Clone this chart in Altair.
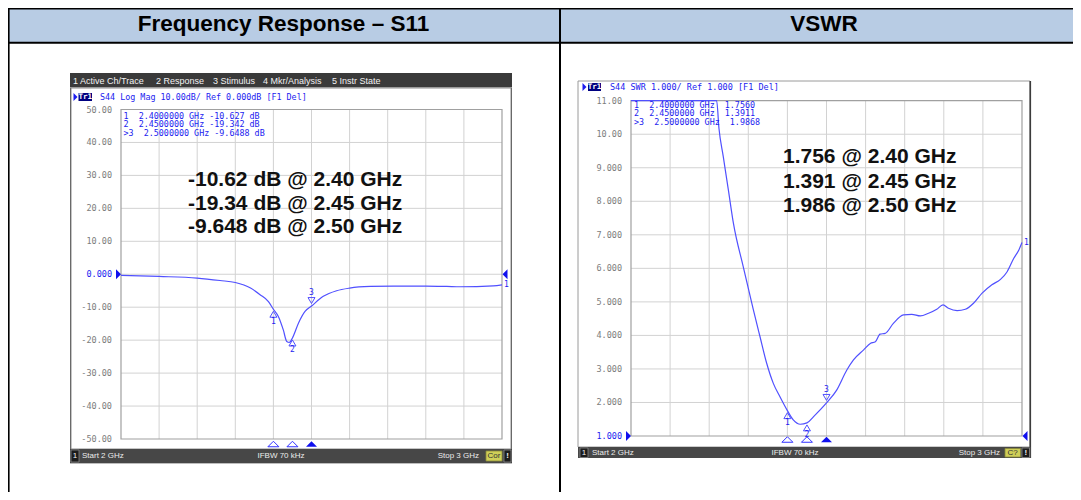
import altair as alt
import pandas as pd

# ---------------- data ----------------
freq_s11 = [2.00, 2.10, 2.20, 2.26, 2.30, 2.34, 2.365, 2.387, 2.40, 2.413, 2.426, 2.435,
            2.442, 2.45, 2.466, 2.483, 2.50, 2.531, 2.566, 2.60, 2.654, 2.714, 2.80,
            2.855, 2.89, 2.977, 3.00]
s11_db = [-0.35, -0.67, -1.16, -1.9, -2.5, -4.2, -6.2, -8.3, -10.627, -12.8, -16.9, -20.4,
          -20.7, -19.342, -14.8, -11.3, -9.6488, -6.7, -5.0, -4.2, -3.7, -3.6, -3.6,
          -3.7, -3.8, -3.5, -3.2]

freq_vswr = [2.00, 2.219, 2.225, 2.236, 2.249, 2.262, 2.287, 2.313, 2.330, 2.347, 2.364,
             2.381, 2.40, 2.415, 2.433, 2.45, 2.467, 2.50, 2.526, 2.552, 2.569, 2.595,
             2.612, 2.625, 2.637, 2.650, 2.671, 2.697, 2.718, 2.740, 2.761, 2.782, 2.798,
             2.812, 2.834, 2.855, 2.876, 2.898, 2.923, 2.945, 2.962, 2.979, 2.992, 3.00]
vswr = [11.0, 11.0, 10.17, 9.33, 8.34, 7.34, 6.05, 4.76, 3.96, 3.17, 2.57,
        2.17, 1.756, 1.48, 1.35, 1.3911, 1.58, 1.9868, 2.37, 2.97, 3.27, 3.57,
        3.76, 3.81, 4.04, 4.06, 4.36, 4.61, 4.63, 4.58, 4.66, 4.78, 4.91,
        4.81, 4.74, 4.78, 4.96, 5.26, 5.51, 5.67, 5.90, 6.30, 6.55, 6.77]

marker_ids = [1, 2, 3]
marker_freq = [2.40, 2.45, 2.50]
marker_s11 = [-10.627, -19.342, -9.6488]
marker_vswr = [1.7560, 1.3911, 1.9868]
s11_readout = ["-10.627", "-19.342", "-9.6488"]
vswr_readout = ["1.7560", "1.3911", "1.9868"]
s11_notes = ["-10.62 dB @ 2.40 GHz", "-19.34 dB @ 2.45 GHz", "-9.648 dB @ 2.50 GHz"]
vswr_notes = ["1.756 @ 2.40 GHz", "1.391 @ 2.45 GHz", "1.986 @ 2.50 GHz"]

s11_ticks = [50, 40, 30, 20, 10, 0, -10, -20, -30, -40, -50]
s11_tick_labels = ["50.00", "40.00", "30.00", "20.00", "10.00", "0.000",
                   "-10.00", "-20.00", "-30.00", "-40.00", "-50.00"]
vswr_ticks = [11, 10, 9, 8, 7, 6, 5, 4, 3, 2, 1]
vswr_tick_labels = ["11.00", "10.00", "9.000", "8.000", "7.000", "6.000",
                    "5.000", "4.000", "3.000", "2.000", "1.000"]
freq_grid = [2.1, 2.2, 2.3, 2.4, 2.5, 2.6, 2.7, 2.8, 2.9]
s11_grid = [40, 30, 20, 10, 0, -10, -20, -30, -40]
vswr_grid = [10, 9, 8, 7, 6, 5, 4, 3, 2]

headers = ["Frequency Response \u2013 S11", "VSWR"]
menu_items = ["1 Active Ch/Trace", "2 Response", "3 Stimulus", "4 Mkr/Analysis", "5 Instr State"]
trace_name = "Tr1"
s11_title = "S44 Log Mag 10.00dB/ Ref 0.000dB [F1 Del]"
vswr_title = "S44 SWR 1.000/ Ref 1.000 [F1 Del]"
status_items = ["Start 2 GHz", "IFBW 70 kHz", "Stop 3 GHz"]
s11_flag = "Cor"
vswr_flag = "C?"

# ---------------- styling / layout ----------------
MONO = "DejaVu Sans Mono"
SANS = "Liberation Sans"
BLUE = "#1c1cf0"
TRACE = "#5050ff"
GREY = "#7c7c7c"
GRID = "#d2d2d2"
BORDER = "#a0a0a0"
BAR = "#474747"
NB = "\u00a0"

def X(x):
    return x - 8

def Y(y):
    return y - 8

one = pd.DataFrame({"k": [0]})
layers = []

def rect(x1, y1, x2, y2, fill, stroke=None, sw=1.0):
    kw = {"fill": fill, "strokeWidth": 0}
    if stroke is not None:
        kw.update(stroke=stroke, strokeWidth=sw)
    layers.append(alt.Chart(one).mark_rect(**kw).encode(
        x=alt.value(X(x1)), x2=alt.value(X(x2)), y=alt.value(Y(y1)), y2=alt.value(Y(y2))))

def hrule(x1, x2, y, color, w):
    layers.append(alt.Chart(one).mark_rule(color=color, strokeWidth=w).encode(
        x=alt.value(X(x1)), x2=alt.value(X(x2)), y=alt.value(Y(y))))

def vrule(x, y1, y2, color, w):
    layers.append(alt.Chart(one).mark_rule(color=color, strokeWidth=w).encode(
        x=alt.value(X(x)), y=alt.value(Y(y1)), y2=alt.value(Y(y2))))

def text(x, y, s, size, color, font, weight="normal", align="left"):
    layers.append(alt.Chart(one).mark_text(
        text=s, fontSize=size, color=color, font=font, fontWeight=weight,
        align=align, baseline="middle").encode(x=alt.value(X(x)), y=alt.value(Y(y))))

def glyph(x, y, path, size, color):
    layers.append(alt.Chart(one).mark_point(
        shape=path, size=size, filled=True, color=color, opacity=1, strokeWidth=0).encode(
        x=alt.value(X(x)), y=alt.value(Y(y))))

TRI_R = "M-0.5,-1L0.5,0L-0.5,1Z"
TRI_L = "M0.5,-1L-0.5,0L0.5,1Z"
TRI_UP_FLAT = "M-1,0.5L0,-0.5L1,0.5Z"
TRI_UP = "M-1,0.85L0,-0.85L1,0.85Z"
TRI_DN = "M-1,-0.85L0,0.85L1,-0.85Z"

# ---------------- table ----------------
rect(8, 8, 1081, 42, "#b8cce4")
hrule(8, 1081, 8.8, "#000000", 1.6)
hrule(8, 1081, 42.7, "#000000", 2)
vrule(8.8, 8, 500, "#000000", 1.6)
vrule(560, 8, 500, "#000000", 2)
text(283.5, 24, headers[0], 22.5, "#000000", SANS, "bold", "center")
text(824, 24, headers[1], 22.5, "#000000", SANS, "bold", "center")

# ---------------- screenshot frames ----------------
# left instrument screen
rect(70, 73, 512, 464, BAR)
rect(71, 88, 511, 449, "#ffffff", "#8c8c8c", 1)
rect(70, 73, 512, 87, "#3a3a3a")
hrule(70, 512, 87.5, "#9a9a9a", 1)
rect(70, 449, 512, 463, BAR)
hrule(70, 512, 463.5, "#bdbdbd", 1)
menu_x = [73, 156, 213, 263, 332]
for mx, m in zip(menu_x, menu_items):
    text(mx, 80.5, m, 9, "#f2f2f2", SANS)
rect(71, 450, 79, 462, "#1c1c1c", "#8a8a8a", 0.8)
text(75, 456, "1", 8, "#f0f0f0", SANS, "normal", "center")
text(82, 456, status_items[0], 8, "#ececec", SANS)
text(281, 456, status_items[1], 8, "#ececec", SANS, "normal", "center")
text(479, 456, status_items[2], 8, "#ececec", SANS, "normal", "right")
rect(486, 451, 502, 461, "#cfcf58", "#8a8a3a", 0.8)
text(494, 456, s11_flag, 8, "#333333", SANS, "normal", "center")
rect(504, 450, 511, 462, "#1c1c1c", "#8a8a8a", 0.8)
text(507.5, 456, "!", 8, "#f0f0f0", SANS, "bold", "center")
glyph(75.5, 97, TRI_R, 64, BLUE)
rect(78.5, 93, 92, 101, "#000080")
text(85.3, 97, trace_name, 7.5, "#ffffff", MONO, "bold", "center")
text(100, 97, s11_title, 8.4, BLUE, MONO)

# right instrument screen
rect(578, 81, 1030, 447, "#ffffff", "#9a9a9a", 1)
vrule(1030.3, 81, 458, "#3c3c3c", 1.6)
rect(578, 447, 1031, 458, BAR)
rect(580, 448, 588, 457.5, "#1c1c1c", "#8a8a8a", 0.8)
text(584, 452.8, "1", 8, "#f0f0f0", SANS, "normal", "center")
text(592, 452.8, status_items[0], 8, "#ececec", SANS)
text(795, 452.8, status_items[1], 8, "#ececec", SANS, "normal", "center")
text(1000, 452.8, status_items[2], 8, "#ececec", SANS, "normal", "right")
rect(1005, 448.5, 1020.5, 457, "#cfcf58", "#8a8a3a", 0.8)
text(1012.7, 452.8, vswr_flag, 8, "#333333", SANS, "normal", "center")
rect(1022, 448, 1029.5, 457.5, "#1c1c1c", "#8a8a8a", 0.8)
text(1025.8, 452.8, "!", 8, "#f0f0f0", SANS, "bold", "center")
glyph(584.5, 87, TRI_R, 64, BLUE)
rect(588, 83, 601, 91, "#000080")
text(594.5, 87, trace_name, 7.5, "#ffffff", MONO, "bold", "center")
text(610, 87, vswr_title, 8.5, BLUE, MONO)


# ---------------- the two instrument plots ----------------
def plot(box, ydom, gridv, ticks, tick_labels, ref_val, freqs, vals,
         mvals, readout, readout_sep, unit, notes, note_xy, ro_xy, bot_y):
    x0, y0, x1, y1 = box
    xs = alt.Scale(domain=[2, 3], range=[X(x0), X(x1)], nice=False, zero=False)
    ys = alt.Scale(domain=ydom, range=[Y(y1), Y(y0)], nice=False, zero=False)
    fx = lambda f: alt.X(f, type="quantitative", scale=xs, axis=None)
    fy = lambda f: alt.Y(f, type="quantitative", scale=ys, axis=None)

    gx = pd.DataFrame({"f": freq_grid})
    layers.append(alt.Chart(gx).mark_rule(color=GRID, strokeWidth=1).encode(
        x=fx("f"), y=alt.value(Y(y0)), y2=alt.value(Y(y1))))
    gy = pd.DataFrame({"v": gridv})
    layers.append(alt.Chart(gy).mark_rule(color=GRID, strokeWidth=1).encode(
        y=fy("v"), x=alt.value(X(x0)), x2=alt.value(X(x1))))
    rect(x0, y0, x1, y1, "transparent", BORDER, 1.2)

    tk = pd.DataFrame({"v": ticks, "t": tick_labels})
    col = alt.condition(alt.datum.v == ref_val, alt.value(BLUE), alt.value(GREY))
    layers.append(alt.Chart(tk).mark_text(
        align="right", baseline="middle", font=MONO, fontSize=8.5).encode(
        x=alt.value(X(x0 - 9)), y=fy("v"), text="t:N", color=col))

    # reference-level arrows
    rf = pd.DataFrame({"v": [ref_val]})
    layers.append(alt.Chart(rf).mark_point(shape=TRI_R, size=100, filled=True, color="#1010ee",
                                          opacity=1, strokeWidth=0).encode(
        x=alt.value(X(x0 - 2.5)), y=fy("v")))
    layers.append(alt.Chart(rf).mark_point(shape=TRI_L, size=100, filled=True, color="#1010ee",
                                          opacity=1, strokeWidth=0).encode(
        x=alt.value(X(x1 + 3)), y=fy("v")))

    # trace
    tr = pd.DataFrame({"f": freqs, "v": vals})
    layers.append(alt.Chart(tr).mark_line(color=TRACE, strokeWidth=1.2, interpolate="monotone",
                                          clip=True).encode(
        x=fx("f"), y=fy("v"), order="f:Q"))
    layers.append(alt.Chart(tr.tail(1)).mark_text(
        font=MONO, fontSize=8, color=BLUE, align="left", baseline="middle", dx=2, text="1").encode(
        x=fx("f"), y=fy("v")))

    # markers
    mk = pd.DataFrame({"id": marker_ids, "f": marker_freq, "v": mvals})
    below = alt.datum.id < 3
    above = alt.datum.id == 3
    layers.append(alt.Chart(mk).transform_filter(below).mark_point(
        shape=TRI_UP, size=49, filled=False, color=TRACE, strokeWidth=1, yOffset=5, opacity=1).encode(
        x=fx("f"), y=fy("v")))
    layers.append(alt.Chart(mk).transform_filter(above).mark_point(
        shape=TRI_DN, size=49, filled=False, color=TRACE, strokeWidth=1, yOffset=-5.5, opacity=1).encode(
        x=fx("f"), y=fy("v")))
    layers.append(alt.Chart(mk).transform_filter(below).mark_text(
        font=MONO, fontSize=8, color=BLUE, dy=12.5, baseline="middle").encode(
        x=fx("f"), y=fy("v"), text="id:N"))
    layers.append(alt.Chart(mk).transform_filter(above).mark_text(
        font=MONO, fontSize=8, color=BLUE, dy=-13, baseline="middle").encode(
        x=fx("f"), y=fy("v"), text="id:N"))
    layers.append(alt.Chart(mk).transform_filter(below).mark_point(
        shape=TRI_UP_FLAT, size=121, filled=False, color="#3030ff", strokeWidth=1, opacity=1).encode(
        x=fx("f"), y=alt.value(Y(bot_y))))
    layers.append(alt.Chart(mk).transform_filter(above).mark_point(
        shape=TRI_UP_FLAT, size=121, filled=True, color="#1010ee", strokeWidth=0, opacity=1).encode(
        x=fx("f"), y=alt.value(Y(bot_y))))

    # marker readout
    rx, ry = ro_xy
    for i, (mid, f, r) in enumerate(zip(marker_ids, marker_freq, readout)):
        pre = (">" if mid == 3 else NB) + str(mid)
        line = pre + NB * 2 + f"{f:.7f}" + NB + "GHz" + readout_sep + r + unit
        text(rx, ry + 8.4 * i, line, 8.4, BLUE, MONO)

    # big annotation
    nx, ny, nstep = note_xy
    for i, s in enumerate(notes):
        text(nx, ny + nstep * i, s, 21, "#111111", SANS, "bold")


plot((121, 109.5, 502, 439), [-50, 50], s11_grid, s11_ticks, s11_tick_labels, 0,
     freq_s11, s11_db, marker_s11, s11_readout, NB, NB + "dB",
     s11_notes, (188, 180, 23.5), (123.5, 116), 444)
plot((631, 100.7, 1022, 436), [1, 11], vswr_grid, vswr_ticks, vswr_tick_labels, 1,
     freq_vswr, vswr, marker_vswr, vswr_readout, NB * 2, "",
     vswr_notes, (783, 157, 24.5), (634, 105), 439.5)

chart = alt.layer(*layers).resolve_scale(x="independent", y="independent").properties(
    width=1065, height=484, padding=0, autosize=alt.AutoSizeParams(type="none")
).configure_view(stroke=None)

chart.save("out.html", embed_options={"renderer": "svg", "actions": False})
